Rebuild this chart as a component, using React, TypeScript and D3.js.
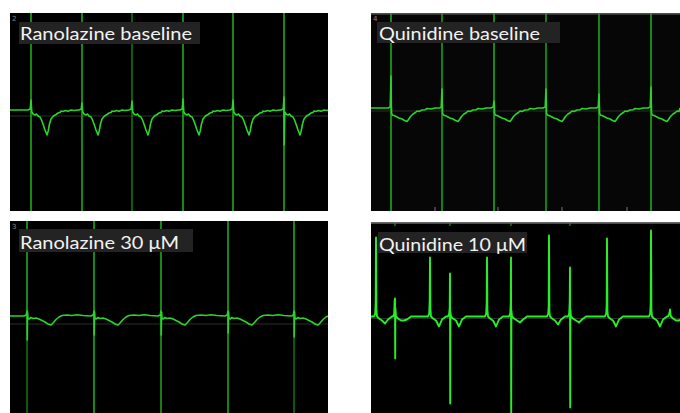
import * as d3 from 'd3'

const W = 680
const H = 413

// ---- data (ms from sweep start, mV relative to trace baseline) ----

// Ranolazine baseline
const ranoBaseBeats = [210, 720, 1220, 1730, 2230, 2740]
const ranoBasePeaks = [0.10, 0.07, 0.09, 0.11, 0.10, 0.13]
const ranoBaseDrops = [0, 0, 0, 0, 0, -0.35]
const ranoBaseTone = [1, 1, 0.55, 1, 1, 1]
const ranoBaseWave = [
  [-30, 0], [-8, 0.01], [8, -0.02], [20, -0.04], [40, -0.05], [55, -0.04], [70, -0.06],
  [90, -0.07], [105, -0.1], [120, -0.14], [140, -0.2], [160, -0.25], [172, -0.21],
  [185, -0.14], [200, -0.09], [225, -0.06], [250, -0.045], [270, -0.03], [290, -0.025],
  [300, -0.01], [320, -0.015], [345, -0.005], [370, -0.012], [400, 0], [430, -0.005], [470, 0],
]

// Quinidine baseline
const quinBaseBeats = [200, 710, 1230, 1750, 2280, 2800]
const quinBasePeaks = [0.32, 0.19, 0.07, 0.19, 0.14, 0.21]
const quinBaseTone = [1, 0.9, 1, 0.9, 0.95, 1]
const quinBaseWave = [
  [-30, 0], [-8, 0.01], [3, 0.04], [6, -0.05], [12, -0.07], [30, -0.075], [50, -0.085],
  [80, -0.1], [110, -0.11], [135, -0.125], [160, -0.135], [175, -0.115], [195, -0.085],
  [220, -0.06], [245, -0.045], [260, -0.03], [280, -0.035], [310, -0.02], [340, -0.018],
  [360, -0.005], [400, -0.01], [440, 0], [490, 0],
]

// Ranolazine 30 µM
const rano30Beats = [170, 840, 1510, 2180, 2840]
const rano30Drops = [-0.24, -0.19, -0.19, -0.17, -0.21]
const rano30TopTone = [1, 1, 1, 1, 1]
const rano30LowTone = [0.5, 1, 0.9, 0.95, 0.5]
const rano30Wave = [
  [-30, 0], [-8, 0.01], [0, 0.05], [6, 0.04], [10, -0.02], [20, -0.03], [40, -0.015],
  [60, -0.025], [90, -0.02], [120, -0.03], [150, -0.045], [180, -0.06], [210, -0.08],
  [240, -0.09], [265, -0.065], [290, -0.035], [320, -0.01], [350, 0.005], [400, 0.01],
  [450, 0.005], [500, 0.012], [560, 0.005], [640, 0],
]

// Quinidine 10 µM (irregular)
const quin10Times = [50, 240, 590, 790, 1160, 1400, 1780, 1990, 2360, 2800, 2990]
const quin10Tops = [0.79, 0.18, 0.59, 0.43, 0.59, 0.59, 0.81, 0.49, 0.78, 0.86, 0.07]
const quin10Bottoms = [0, -0.42, 0, -0.87, 0, -0.97, 0, -0.91, 0, 0, 0]
const quin10Humps = [0.15, 0.17, 0.16, 0.09, 0.14, 0.12, 0.1, 0.14, 0.12, 0.14, 0.05]
const quin10Dips = [-0.07, -0.04, -0.1, -0.1, -0.1, -0.06, -0.08, -0.06, -0.1, -0.1, -0.04]

const labels = ['Ranolazine baseline', 'Quinidine baseline', 'Ranolazine 30 μM', 'Quinidine 10 μM']
const channelNums = ['2', '4', '3', '']

// ---- layout ----
const panels = [
  { x0: 10, x1: 328, y0: 13, y1: 211, base: 0.02, ref: -0.04, bg: '#000' },
  { x0: 371, x1: 680, y0: 13, y1: 211, base: 0.04, ref: 0.01, bg: '#060606' },
  { x0: 10, x1: 328, y0: 221, y1: 413, base: 0.01, ref: -0.07, bg: '#000' },
  { x0: 371, x1: 680, y0: 222, y1: 413, base: 0.01, ref: -0.01, bg: '#000' },
]
const boxes = [
  { x: 19, y: 22, w: 181, h: 22, tx: 20, ty: 40, tw: 172 },
  { x: 377, y: 22, w: 183, h: 21, tx: 379, ty: 40, tw: 161 },
  { x: 19, y: 229, w: 174, h: 23, tx: 20, ty: 249, tw: 159 },
  { x: 378, y: 232, w: 149, h: 21, tx: 379, ty: 251, tw: 147 },
]

function scalesFor(p) {
  const half = (p.y1 - p.y0) / 200
  const x = d3.scaleLinear().domain([0, (p.x1 - p.x0) * 10]).range([p.x0, p.x1])
  const y = d3.scaleLinear().domain([-half, half]).range([p.y1, p.y0])
  return { x, y }
}

function beatTrace(beats, peaks, drops, wave, end) {
  const pts = [[0, 0]]
  beats.forEach((t, i) => {
    wave.filter((w) => w[0] < 0).forEach((w) => pts.push([t + w[0], w[1]]))
    if (peaks) pts.push([t, peaks[i]])
    if (drops && drops[i]) pts.push([t + 2, drops[i]])
    wave.filter((w) => w[0] >= 0).forEach((w) => pts.push([t + w[0] + (w[0] === 0 ? 1 : 0), w[1]]))
  })
  pts.push([end, 0])
  return pts.filter((d) => d[0] >= 0 && d[0] <= end).sort((a, b) => a[0] - b[0])
}

function eventTrace(end) {
  const pts = [[0, 0]]
  quin10Times.forEach((t, i) => {
    pts.push([t - 20, 0], [t - 8, 0.03], [t - 3, quin10Humps[i]], [t, quin10Tops[i]])
    if (quin10Bottoms[i]) pts.push([t + 2, quin10Bottoms[i]])
    pts.push([t + 4, quin10Humps[i] * 0.5], [t + 10, 0], [t + 30, -0.02], [t + 60, -0.04],
      [t + 90, quin10Dips[i]], [t + 120, -0.03], [t + 160, 0])
  })
  pts.push([end, -0.03])
  return pts.filter((d) => d[0] >= 0 && d[0] <= end).sort((a, b) => a[0] - b[0])
}

const lineBright = '#1fc21f'
const lineDark = '#118011'

export default function App() {
  const sc = panels.map(scalesFor)
  const ends = panels.map((p) => (p.x1 - p.x0) * 10)
  const traces = [
    beatTrace(ranoBaseBeats, ranoBasePeaks, ranoBaseDrops, ranoBaseWave, ends[0]),
    beatTrace(quinBaseBeats, quinBasePeaks, null, quinBaseWave, ends[1]),
    beatTrace(rano30Beats, null, rano30Drops, rano30Wave, ends[2]),
    eventTrace(ends[3]),
  ]
  const stim = [
    ranoBaseBeats.map((t, i) => ({ t, top: ranoBaseTone[i], low: ranoBaseTone[i] })),
    quinBaseBeats.map((t, i) => ({ t, top: quinBaseTone[i], low: quinBaseTone[i] })),
    rano30Beats.map((t, i) => ({ t, top: rano30TopTone[i], low: rano30LowTone[i] })),
    [],
  ]
  const tone = d3.scaleLinear().domain([0.5, 1]).range([lineDark, lineBright])

  return (
    <svg width={W} height={H} style={{ position: 'absolute', left: 0, top: 0, background: '#fff' }}>
      <defs>
        {panels.map((p, i) => (
          <clipPath id={`clip${i}`} key={i}>
            <rect x={p.x0} y={p.y0} width={p.x1 - p.x0} height={p.y1 - p.y0} />
          </clipPath>
        ))}
      </defs>
      {panels.map((p, i) => {
        const { x, y } = sc[i]
        const line = d3.line().x((d) => x(d[0])).y((d) => y(d[1] + p.base))
        const yb = y(p.base)
        return (
          <g key={i} clipPath={`url(#clip${i})`}>
            <rect x={p.x0} y={p.y0} width={p.x1 - p.x0} height={p.y1 - p.y0} fill={p.bg} />
            <line x1={p.x0} x2={p.x1} y1={y(p.ref)} y2={y(p.ref)} stroke="#2c2c2c" strokeWidth={1.2} />
            {stim[i].map((s, k) => (
              <g key={k}>
                <line x1={x(s.t)} x2={x(s.t)} y1={p.y0} y2={yb} stroke={tone(s.top)} strokeWidth={1.4} />
                <line x1={x(s.t)} x2={x(s.t)} y1={yb} y2={p.y1} stroke={tone(s.low)} strokeWidth={1.4} />
              </g>
            ))}
            {i === 3 && quin10Times.filter((_, k) => quin10Bottoms[k]).map((t, k) => (
              <line key={k} x1={x(t)} x2={x(t)} y1={p.y0} y2={p.y0 + 4} stroke="#1a9a1a" strokeWidth={1.2} />
            ))}
            {i === 1 && [435, 498, 562, 627].map((px) => (
              <line key={px} x1={px} x2={px} y1={p.y1 - 4} y2={p.y1} stroke="#777" strokeWidth={1} />
            ))}
            <path d={line(traces[i])} fill="none" stroke={i === 3 ? '#27ee27' : '#2ad42a'}
              strokeWidth={i === 3 ? 1.9 : 1.6} strokeLinejoin="round" />
            {(i === 1 || i === 3) && (
              <line x1={p.x0} x2={p.x1} y1={p.y0 + 0.8} y2={p.y0 + 0.8} stroke="#666" strokeWidth={i === 3 ? 2 : 1.2} />
            )}
            <text x={p.x0 + 2} y={p.y0 + 8} fontSize={7} fill="#888" fontFamily="DejaVu Sans">{channelNums[i]}</text>
          </g>
        )
      })}
      {boxes.map((b, i) => (
        <g key={i}>
          <rect x={b.x} y={b.y} width={b.w} height={b.h} fill="#232323" />
          <text x={b.tx} y={b.ty} fontSize={18} fill="#f2f2f2"
            fontFamily="Lato, 'Noto Sans', sans-serif"
            textLength={b.tw} lengthAdjust="spacingAndGlyphs">{labels[i]}</text>
        </g>
      ))}
    </svg>
  )
}
